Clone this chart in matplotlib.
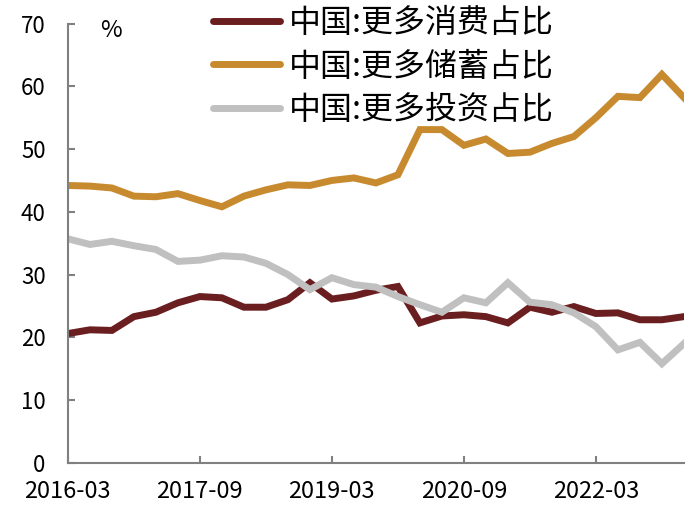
import numpy as np
import matplotlib
matplotlib.use("Agg")
import matplotlib.pyplot as plt

plt.rcParams['font.family'] = ['Noto Sans CJK SC', 'DejaVu Sans']

# quarterly, 2016-03 .. 2023-03
quarters = ['2016-03', '2016-06', '2016-09', '2016-12',
            '2017-03', '2017-06', '2017-09', '2017-12',
            '2018-03', '2018-06', '2018-09', '2018-12',
            '2019-03', '2019-06', '2019-09', '2019-12',
            '2020-03', '2020-06', '2020-09', '2020-12',
            '2021-03', '2021-06', '2021-09', '2021-12',
            '2022-03', '2022-06', '2022-09', '2022-12',
            '2023-03']

consume = [20.6, 21.2, 21.1, 23.3, 24.0, 25.5, 26.5, 26.3, 24.8, 24.8,
           26.0, 28.7, 26.1, 26.6, 27.5, 28.1, 22.3, 23.4, 23.6, 23.3,
           22.3, 24.8, 24.0, 24.9, 23.8, 23.9, 22.8, 22.8, 23.3]
savings = [44.2, 44.1, 43.8, 42.5, 42.4, 42.9, 41.8, 40.8, 42.5, 43.5,
           44.3, 44.2, 45.0, 45.4, 44.6, 45.9, 53.1, 53.1, 50.6, 51.6,
           49.3, 49.5, 50.9, 52.0, 55.0, 58.4, 58.2, 61.9, 58.2]
invest = [35.7, 34.8, 35.3, 34.6, 34.0, 32.1, 32.3, 33.0, 32.8, 31.8,
          30.0, 27.6, 29.5, 28.4, 28.0, 26.5, 25.2, 24.0, 26.3, 25.5,
          28.7, 25.6, 25.2, 23.9, 21.7, 18.0, 19.2, 15.8, 19.0]

labels = ['中国:更多消费占比', '中国:更多储蓄占比', '中国:更多投资占比']
colors = ['#6b1e1f', '#c88a2e', '#c0c0c0']

x = np.arange(len(quarters))

fig = plt.figure(figsize=(7, 5.12), dpi=100)
ax = fig.add_axes([0.097, 0.096, 0.880, 0.858])

for y, lab, c in zip([consume, savings, invest], labels, colors):
    ax.plot(x, y, color=c, lw=5, label=lab, solid_joinstyle='miter')

ax.set_xlim(0, len(quarters) - 1)
ax.set_ylim(0, 70)
ax.set_yticks(range(0, 71, 10))
ax.set_xticks(x[::6])
ax.set_xticklabels(quarters[::6])

for s in ['top', 'right']:
    ax.spines[s].set_visible(False)
for s in ['left', 'bottom']:
    ax.spines[s].set_color('#808080')
    ax.spines[s].set_linewidth(1.5)

ax.tick_params(axis='both', direction='in', length=5, width=1.5,
               color='#808080')
ax.tick_params(axis='y', pad=16, labelsize=16)
ax.tick_params(axis='x', pad=12, labelsize=17)

ax.text(0.07, 0.985, '%', transform=ax.transAxes, fontsize=17,
        ha='center', va='center')

leg = fig.legend(loc='upper left', bbox_to_anchor=(0.282, 1.018),
                 frameon=False, fontsize=23, handlelength=2.1,
                 handletextpad=0.25, labelspacing=0.37, borderpad=0.0)
for h in leg.get_lines():
    h.set_solid_capstyle('round')

fig.savefig('out.png', dpi=100)
